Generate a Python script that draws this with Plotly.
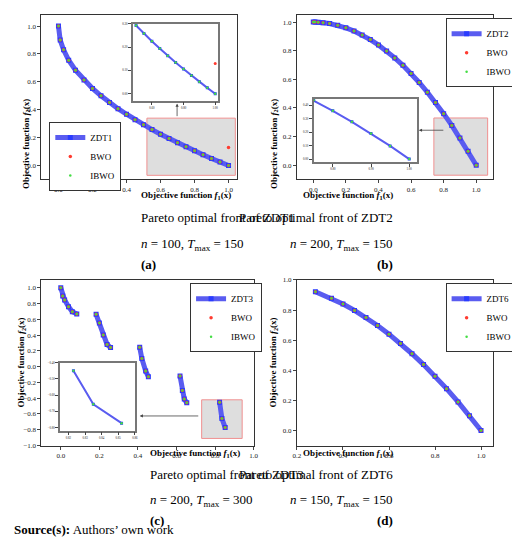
import plotly.graph_objects as go

W, H = 520, 543

# ZDT1
z1_x = [0, 0.01, 0.03, 0.06, 0.1, 0.15, 0.2, 0.25, 0.3, 0.35, 0.4, 0.45, 0.5, 0.55, 0.6, 0.65, 0.7, 0.75, 0.8, 0.85, 0.9, 0.95, 1.0]
z1_y = [1, 0.9, 0.83, 0.755, 0.684, 0.613, 0.553, 0.5, 0.452, 0.408, 0.368, 0.329, 0.293, 0.258, 0.225, 0.194, 0.163, 0.134, 0.106, 0.078, 0.051, 0.025, 0]
bwo1_out = ([1.0], [0.13])
# ZDT2
z2_x = z1_x
z2_y = [1, 1, 0.999, 0.996, 0.99, 0.978, 0.96, 0.938, 0.91, 0.878, 0.84, 0.798, 0.75, 0.698, 0.64, 0.578, 0.51, 0.438, 0.36, 0.278, 0.19, 0.098, 0]
# ZDT3 (five segments)
z3_x = [[0, 0.01, 0.02, 0.04, 0.06, 0.083], [0.183, 0.2, 0.22, 0.24, 0.258],
        [0.409, 0.42, 0.44, 0.454], [0.618, 0.63, 0.64, 0.653], [0.823, 0.835, 0.852]]
z3_y = [[1, 0.897, 0.847, 0.762, 0.698, 0.67], [0.665, 0.553, 0.402, 0.282, 0.242],
        [0.247, 0.105, -0.056, -0.127], [-0.117, -0.303, -0.409, -0.458], [-0.45, -0.657, -0.773]]
# ZDT6
z6_x = [0.28, 0.35, 0.4, 0.45, 0.5, 0.55, 0.6, 0.65, 0.7, 0.75, 0.8, 0.85, 0.9, 0.95, 1.0]
z6_y = [0.922, 0.878, 0.84, 0.798, 0.75, 0.698, 0.64, 0.578, 0.51, 0.438, 0.36, 0.278, 0.19, 0.098, 0]

names = ["ZDT1", "ZDT2", "ZDT3", "ZDT6"]
n_vals = [100, 200, 200, 150]
t_vals = [150, 150, 300, 150]
letters = ["(a)", "(b)", "(c)", "(d)"]

SERIF = "Liberation Serif"
BLUE, RED, GREEN = "#2a3cff", "#ff3b30", "#44dd44"

fig = go.Figure()

def px(x0, x1):
    return [x0 / W, x1 / W]

def py(y0, y1):
    return [1 - y1 / H, 1 - y0 / H]

# main panel boxes in pixels (x0, x1, y0, y1)
boxes = [(30, 229, 3, 170), (290, 489, 3, 170), (30, 246, 272, 440), (290, 489, 272, 440)]
ranges = [([-0.1, 1.05], [-0.1, 1.08]), ([-0.1, 1.1], [-0.1, 1.05]),
          ([-0.1, 1.0], [-1.0, 1.1]), ([0.2, 1.05], [-0.1, 1.0])]
legpos = [(0.04, 0.35), (0.76, 0.98), (0.7, 0.98), (0.76, 0.98)]
ytitle_dx = [22, 282, 18, 282]

def add_front(xs, ys, ax, leg, show, label):
    sfx = "" if ax == 1 else str(ax)
    kw = dict(xaxis="x" + sfx, yaxis="y" + sfx, legend=leg)
    fig.add_trace(go.Scatter(x=xs, y=ys, mode="lines+markers", name=label, showlegend=show,
                             line=dict(color="#5a5cf0", width=5), marker=dict(color=BLUE, size=5, symbol="square"), **kw))
    fig.add_trace(go.Scatter(x=xs, y=ys, mode="markers", name="BWO", showlegend=show,
                             marker=dict(color=RED, size=3.5), **kw))
    fig.add_trace(go.Scatter(x=xs, y=ys, mode="markers", name="IBWO", showlegend=show,
                             marker=dict(color=GREEN, size=2.5), **kw))

def axis_style(rng, dom, anchor, ticks=True, size=7):
    return dict(range=rng, domain=dom, anchor=anchor, showgrid=False, zeroline=False, mirror=True,
                showline=True, linecolor="#333", linewidth=1, ticks="outside" if ticks else "",
                ticklen=3, tickfont=dict(family=SERIF, size=size, color="#222"), tickformat=".1f", dtick=0.2)

layout = dict(width=W, height=H, margin=dict(l=0, r=0, t=0, b=0), paper_bgcolor="white",
              plot_bgcolor="white", showlegend=True)
annotations, shapes = [], []

for i, (bx, (xr, yr)) in enumerate(zip(boxes, ranges)):
    ax = i + 1
    sfx = "" if ax == 1 else str(ax)
    leg = "legend" if ax == 1 else "legend" + str(ax)
    layout["xaxis" + sfx] = axis_style(xr, px(bx[0], bx[1]), "y" + sfx)
    layout["yaxis" + sfx] = axis_style(yr, py(bx[2], bx[3]), "x" + sfx)
    lx, ly = legpos[i]
    layout[leg] = dict(x=px(bx[0], bx[1])[0] + lx * (bx[1] - bx[0]) / W,
                       y=py(bx[2], bx[3])[0] + ly * (bx[3] - bx[2]) / H,
                       xref="paper", yref="paper", yanchor="top",
                       bordercolor="#333", borderwidth=1, bgcolor="white",
                       font=dict(family=SERIF, size=9, color="black"), tracegroupgap=0, itemwidth=30)
    if i == 0:
        add_front(z1_x, z1_y, ax, leg, True, names[i])
    elif i == 1:
        add_front(z2_x, z2_y, ax, leg, True, names[i])
    elif i == 2:
        for k, (sx, sy) in enumerate(zip(z3_x, z3_y)):
            add_front(sx, sy, ax, leg, k == 0, names[i])
    else:
        add_front(z6_x, z6_y, ax, leg, True, names[i])
    cx = (bx[0] + bx[1]) / 2 / W
    annotations += [
        dict(x=cx, y=1 - (bx[3] + 16) / H, xref="paper", yref="paper", showarrow=False,
             text="<b>Objective function <i>f</i><sub>1</sub>(x)</b>", font=dict(family=SERIF, size=9, color="black")),
        dict(x=ytitle_dx[i] / W - 0.03, y=1 - (bx[2] + bx[3]) / 2 / H, xref="paper", yref="paper", showarrow=False,
             textangle=-90, text="<b>Objective function <i>f</i><sub>2</sub>(x)</b>", font=dict(family=SERIF, size=9, color="black")),
        dict(x=cx, y=1 - (bx[3] + 39) / H, xref="paper", yref="paper", showarrow=False,
             text="Pareto optimal front of " + names[i], font=dict(family=SERIF, size=13, color="black")),
        dict(x=cx, y=1 - (bx[3] + 66) / H, xref="paper", yref="paper", showarrow=False,
             text="<i>n</i> = %d, <i>T</i><sub>max</sub> = %d" % (n_vals[i], t_vals[i]), font=dict(family=SERIF, size=13, color="black")),
        dict(x=cx, y=1 - (bx[3] + 86) / H, xref="paper", yref="paper", showarrow=False,
             text="<b>%s</b>" % letters[i], font=dict(family=SERIF, size=13, color="black")),
    ]

# BWO outlier in ZDT1
fig.add_trace(go.Scatter(x=bwo1_out[0], y=bwo1_out[1], mode="markers", showlegend=False,
                         marker=dict(color=RED, size=3.5), xaxis="x", yaxis="y"))

# gray zoom rectangles (data coords)
for ref, (x0, x1, y0, y1) in [("", (0.52, 1.04, -0.07, 0.34)), ("2", (0.74, 1.07, -0.07, 0.33)), ("3", (0.73, 0.94, -0.91, -0.42))]:
    shapes.append(dict(type="rect", xref="x" + ref, yref="y" + ref, x0=x0, x1=x1, y0=y0, y1=y1,
                       fillcolor="rgba(200,200,200,0.6)", line=dict(color="#f09090", width=1), layer="below"))

# insets
insets = [
    (5, (123, 210, 12, 90), [0.48, 1.02], [-0.03, 0.3], z1_x[12:], z1_y[12:], True),
    (6, (307, 412, 88, 152), [0.75, 1.02], [-0.02, 0.45], z2_x[16:], z2_y[16:], False),
    (7, (49, 125, 356, 425), [0.815, 0.86], [-0.82, -0.4], z3_x[4], z3_y[4], False),
]
for ax, bx, xr, yr, xs, ys, outl in insets:
    sfx = str(ax)
    layout["xaxis" + sfx] = axis_style(xr, px(bx[0], bx[1]), "y" + sfx, size=3)
    layout["yaxis" + sfx] = axis_style(yr, py(bx[2], bx[3]), "x" + sfx, size=3)
    for a in ("xaxis", "yaxis"):
        layout[a + sfx].update(dtick=None, linecolor="#777", linewidth=1.5, tickformat=".2f")
    shapes.append(dict(type="rect", xref="paper", yref="paper", x0=bx[0] / W, x1=bx[1] / W,
                       y0=1 - bx[3] / H, y1=1 - bx[2] / H, fillcolor="white", line=dict(width=0), layer="below"))
    kw = dict(xaxis="x" + sfx, yaxis="y" + sfx, showlegend=False)
    fig.add_trace(go.Scatter(x=xs, y=ys, mode="lines+markers", line=dict(color="#5a5cf0", width=2),
                             marker=dict(color=BLUE, size=3, symbol="square"), **kw))
    fig.add_trace(go.Scatter(x=xs, y=ys, mode="markers", marker=dict(color=GREEN, size=2.5), **kw))
    if outl:
        fig.add_trace(go.Scatter(x=bwo1_out[0], y=bwo1_out[1], mode="markers", marker=dict(color=RED, size=3), **kw))

# arrows (tail pixel -> head pixel)
for (x0, y0, x1, y1) in [(168, 107, 168, 93), (440, 120, 414, 120), (190, 410, 130, 410)]:
    annotations.append(dict(x=x1 / W, y=1 - y1 / H, ax=x0 - x1, ay=y0 - y1, xref="paper", yref="paper",
                            axref="pixel", ayref="pixel", showarrow=True, arrowhead=2, arrowsize=0.8,
                            arrowwidth=0.8, arrowcolor="#444", text=""))

annotations.append(dict(x=0.0, y=1 - 535 / H, xref="paper", yref="paper", xanchor="left", showarrow=False,
                        text="<b>Source(s):</b> Authors’ own work", font=dict(family=SERIF, size=13, color="black")))

layout["annotations"] = annotations
layout["shapes"] = shapes
fig.update_layout(**layout)
fig.write_html("out.html")
